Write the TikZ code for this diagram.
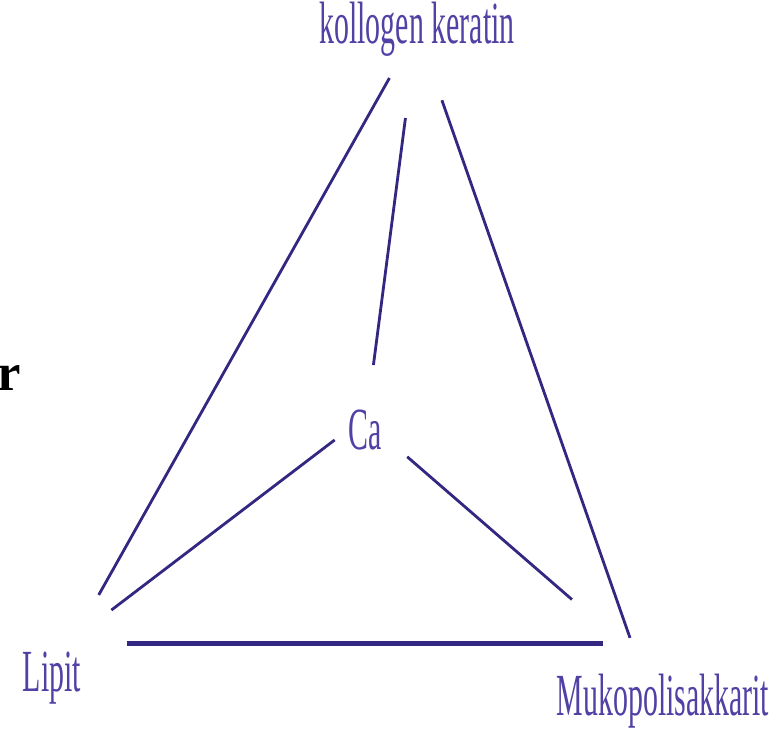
\documentclass[tikz,border=0pt]{standalone}
\usepackage{fontspec}
\setmainfont{Liberation Serif}
\newfontfamily\narrowfont[FakeStretch=0.5]{Liberation Serif}
\usetikzlibrary{calc}
\definecolor{linkblue}{RGB}{50,40,130}
\definecolor{labelblue}{RGB}{80,65,165}

\begin{document}
\begin{tikzpicture}[x=0.01cm, y=-0.01cm,
    lbl/.style={inner sep=0pt, text=labelblue,
                font=\narrowfont\fontsize{17}{20}\selectfont},
    link/.style={draw=linkblue, line width=0.8pt},
    bar/.style={draw=linkblue, line width=1.4pt}]

    \useasboundingbox (0,0) rectangle (778,732);

    % labels
    \node[lbl] (kol) at (417, 29) {kollogen keratin};
    \node[lbl] (ca)  at (365, 430) {Ca};
    \node[lbl] (lip) at (52, 678) {Lipit};
    \node[lbl] (muk) at (663, 701) {Mukopolisakkarit};

    % letter at the left edge
    \node[inner sep=0pt, anchor=base west,
          font=\bfseries\fontsize{15}{18}\selectfont] (cut) at (-3, 390) {r};

    % outer lines
    \draw[link] ($(kol)!0.0755!(lip)$) -- ($(kol)!0.872!(lip)$);
    \draw[link] ($(kol)!0.106!([xshift=-3.1pt]muk)$) -- ($(kol)!0.906!([xshift=-3.1pt]muk)$);

    % lines to Ca
    \draw[link] ($(kol)!0.222!(ca)$) -- ($(kol)!0.838!(ca)$);
    \draw[link] ($(ca.west)!0.04!(lip.west)$) -- ($(ca.west)!0.726!(lip.west)$);
    \draw[link] ($([xshift=-1.7pt]ca.east)!0.11!([xshift=-1.7pt]muk.north)$) -- ($([xshift=-1.7pt]ca.east)!0.697!([xshift=-1.7pt]muk.north)$);

    % bottom bar
    \path (lip.north east) ++(45,-8) coordinate (barL);
    \path (muk.north west) ++(47,0) coordinate (barR);
    \draw[bar] (barL) -- (barL -| barR);

\end{tikzpicture}
\end{document}
